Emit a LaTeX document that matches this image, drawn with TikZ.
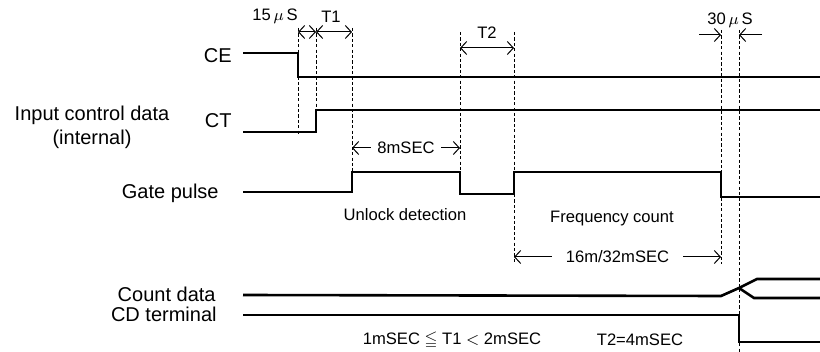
\documentclass[tikz,border=0pt]{standalone}
\usepackage{amssymb}
\usepackage{fontspec}
\setmainfont{Liberation Sans}
\usetikzlibrary{arrows.meta}

\begin{document}
\begin{tikzpicture}[
    x=0.5pt, y=-0.5pt,
    sig/.style={line width=1.3pt},
    guide/.style={line width=0.45pt, dash pattern=on 1.6pt off 1.1pt},
    dim/.style={line width=0.5pt, {Straight Barb[length=3pt,width=6.5pt]}-{Straight Barb[length=3pt,width=6.5pt]}},
    tip/.style={line width=0.5pt, -{Straight Barb[length=3pt,width=6.5pt]}},
    lbl/.style={font=\fontsize{10}{12}\selectfont, inner sep=1pt},
    note/.style={font=\fontsize{8.3}{10}\selectfont, inner sep=1pt},
]
    \useasboundingbox (0,0) rectangle (820,352);

    % signal names
    \node[lbl, anchor=east] (ce) at (234,56) {CE};
    \node[lbl, anchor=east] (ct) at (234,121) {CT};
    \node[lbl, align=center] (icd) at (92,127) {Input control data\\(internal)};
    \node[lbl, anchor=east] (gate) at (221,193) {Gate pulse};
    \node[lbl, anchor=east] (cnt) at (218,294) {Count data};
    \node[lbl, anchor=east] (cdt) at (219,314) {CD terminal};

    % time marks
    \coordinate (a0) at (298,28);  \coordinate (a1) at (298,134);
    \coordinate (b0) at (316,28);  \coordinate (b1) at (316,110);
    \coordinate (c0) at (352,28);  \coordinate (c1) at (352,172);
    \coordinate (d0) at (460,32);  \coordinate (d1) at (460,172);
    \coordinate (e0) at (514,32);  \coordinate (e1) at (514,262);
    \coordinate (f0) at (721,30);  \coordinate (f1) at (721,264);
    \coordinate (g0) at (739,30);  \coordinate (g1) at (739,352);
    \foreach \m in {a,b,c,d,e,f,g}
        \draw[guide] (\m0) -- (\m1);

    % waveforms
    \draw[sig] (243,53) -- (298,53) -- (298,77) -- (820,77);
    \draw[sig] (243,132) -- (316,132) -- (316,110) -- (820,110);
    \draw[sig] (243,192) -- (352,192) -- (352,172) -- (460,172) -- (460,194)
        -- (514,194) -- (514,172) -- (721,172) -- (721,197) -- (820,197);
    \draw[sig] (243,295) -- (721,296) -- (739,288) -- (757,279) -- (820,279);
    \draw[sig] (739,288) -- (754,298) -- (820,298);
    \draw[sig] (243,315) -- (739,315) -- (739,342) -- (820,342);

    % dimensions
    \coordinate (p15a) at (298,32); \coordinate (p15b) at (316,32);
    \coordinate (pt1) at (352,32);
    \draw[dim] (p15a) -- (p15b);
    \draw[dim] (p15b) -- (pt1);
    \node[note] (us15) at (275,16) {15\,$\mu$\,S};
    \node[note] (t1) at (331,17) {T1};

    \coordinate (pt2a) at (460,48); \coordinate (pt2b) at (514,48);
    \draw[dim] (pt2a) -- (pt2b);
    \node[note] (t2) at (487,33) {T2};

    \coordinate (q0) at (699,35); \coordinate (q1) at (721,35);
    \coordinate (q2) at (762,35); \coordinate (q3) at (739,35);
    \draw[tip] (q0) -- (q1);
    \draw[tip] (q2) -- (q3);
    \node[note] (us30) at (730,20) {30\,$\mu$\,S};

    \coordinate (m8a) at (352,148); \coordinate (m8b) at (460,148);
    \draw[dim] (m8a) -- node[note, fill=white, inner sep=3pt] (ms8) {8mSEC} (m8b);
    \coordinate (m16a) at (514,257); \coordinate (m16b) at (721,257);
    \draw[dim] (m16a) -- node[note, fill=white, inner sep=7pt] (ms16) {16m/32mSEC} (m16b);

    \node[note] (unlock) at (405,215) {Unlock detection};
    \node[note] (freq) at (612,219) {Frequency count};
    \node[note] (cond1) at (452,340) {1mSEC $\leqq$ T1 $<$ 2mSEC};
    \node[note] (cond2) at (640,340) {T2=4mSEC};
\end{tikzpicture}
\end{document}
